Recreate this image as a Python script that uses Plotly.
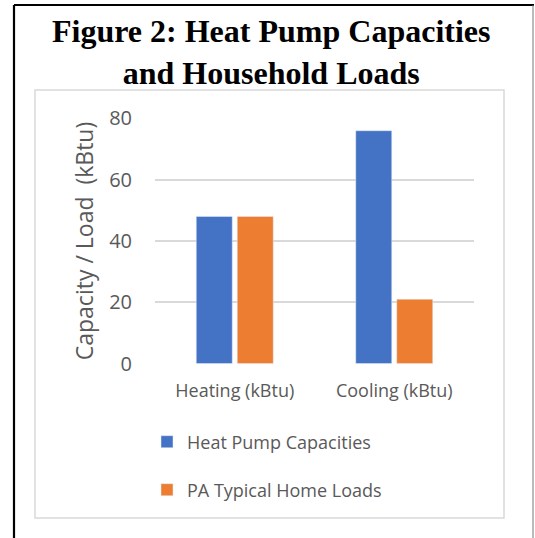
import plotly.graph_objects as go

categories = ["Heating (kBtu)", "Cooling (kBtu)"]
heat_pump_capacities = [48, 76]
pa_typical_home_loads = [48, 21]
y_ticks = [0, 20, 40, 60, 80]

W, H = 535, 538
L, R, T, B = 155, 61, 118, 174
PW, PH = W - L - R, H - T - B


def px(x):
    return (x - L) / PW


def py(y):
    return (H - B - y) / PH


fig = go.Figure()
fig.add_trace(go.Bar(name="Heat Pump Capacities", x=categories, y=heat_pump_capacities,
                     marker_color="#4472C4", legend="legend"))
fig.add_trace(go.Bar(name="PA Typical Home Loads", x=categories, y=pa_typical_home_loads,
                     marker_color="#ED7D31", legend="legend2"))

font_sans = "Open Sans"
grey = "#595959"

shapes = []
# outer frame
shapes.append(dict(type="line", xref="paper", yref="paper", x0=px(14), x1=px(14), y0=py(5), y1=py(545),
                   line=dict(color="#000000", width=2.2), layer="above"))
shapes.append(dict(type="line", xref="paper", yref="paper", x0=px(14), x1=px(534), y0=py(5), y1=py(5),
                   line=dict(color="#000000", width=1.8), layer="above"))
shapes.append(dict(type="line", xref="paper", yref="paper", x0=px(533), x1=px(533), y0=py(5), y1=py(545),
                   line=dict(color="#777777", width=1), layer="above"))
# inner chart box
shapes.append(dict(type="rect", xref="paper", yref="paper", x0=px(35), x1=px(504), y0=py(90), y1=py(518),
                   line=dict(color="#D9D9D9", width=1.5), layer="below"))

fig.add_annotation(text="<b>Figure 2: Heat Pump Capacities<br>and Household Loads</b>",
                   xref="paper", yref="paper", x=px(271), y=py(11), xanchor="center", yanchor="top",
                   showarrow=False, align="center",
                   font=dict(family="Liberation Serif", size=32, color="#000000"))

fig.update_layout(
    width=W, height=H,
    margin=dict(l=L, r=R, t=T, b=B, autoexpand=False),
    paper_bgcolor="white", plot_bgcolor="white",
    barmode="group", bargap=0.486, bargroupgap=0.122,
    yaxis=dict(range=[-0.15, 80.15], tickvals=y_ticks, showgrid=True, gridcolor="#D9D9D9", gridwidth=1.5,
               zeroline=False, showline=False, ticks="", ticklabelstandoff=22,
               tickfont=dict(family=font_sans, size=20, color=grey),
               title=dict(text="Capacity / Load \u00a0(kBtu)", standoff=9,
                          font=dict(family=font_sans, size=23, color=grey))),
    xaxis=dict(showgrid=False, zeroline=False, showline=False, ticks="", ticklabelstandoff=14,
               tickfont=dict(family=font_sans, size=18, color=grey)),
    legend=dict(x=px(147), xanchor="left", y=py(442), yanchor="middle", bgcolor="rgba(0,0,0,0)",
                font=dict(family=font_sans, size=18, color=grey)),
    legend2=dict(x=px(147), xanchor="left", y=py(490), yanchor="middle", bgcolor="rgba(0,0,0,0)",
                 font=dict(family=font_sans, size=18, color=grey)),
    shapes=shapes,
    showlegend=True,
)

fig.write_html("out.html", config={"displayModeBar": False},
               post_script="document.body.style.margin='0';document.body.style.overflow='hidden';")
